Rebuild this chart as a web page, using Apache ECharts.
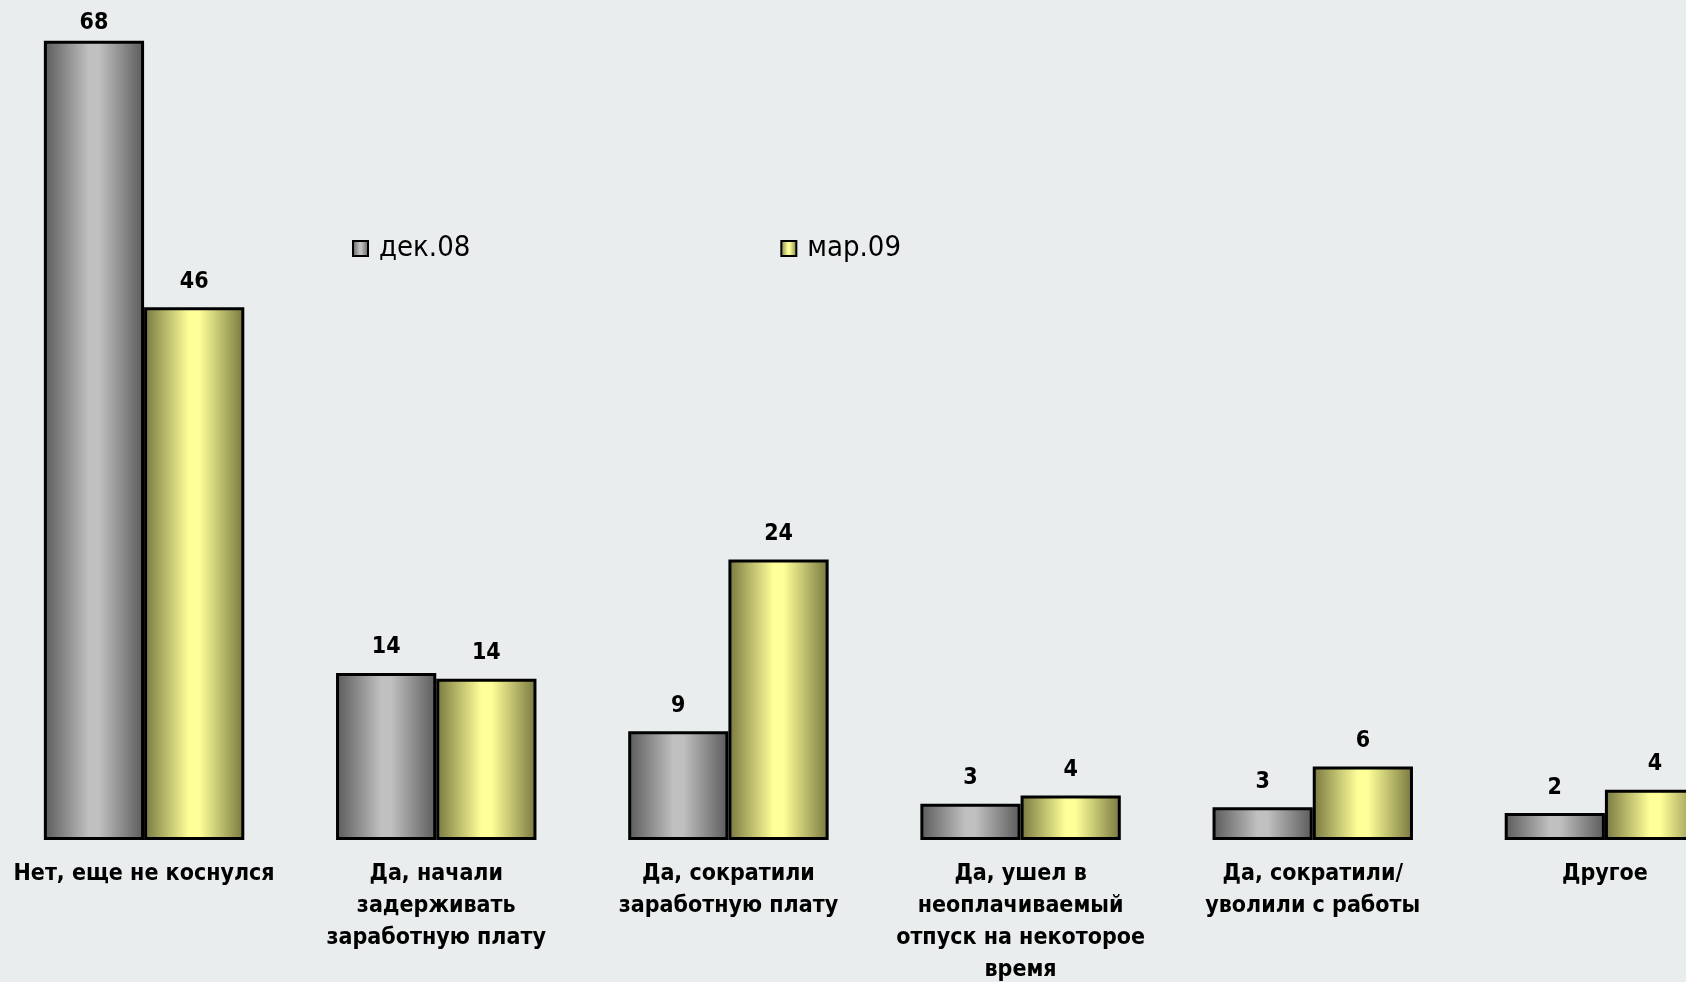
<!DOCTYPE html>
<html>
<head>
<meta charset="utf-8">
<script src="https://cdn.jsdelivr.net/npm/echarts@6/dist/echarts.min.js"></script>
<style>
html,body{margin:0;padding:0;background:#e9edee;}
#chart{width:1686px;height:982px;}
</style>
</head>
<body>
<div id="chart"></div>
<script>
const categories = [
  "Нет, еще не коснулся",
  "Да, начали\nзадерживать\nзаработную плату",
  "Да, сократили\nзаработную плату",
  "Да, ушел в\nнеоплачиваемый\nотпуск на некоторое\nвремя",
  "Да, сократили/\nуволили с работы",
  "Другое"
];
const seriesNames = ["дек.08", "мар.09"];
const dec08 = [68.4, 14.3, 9.3, 3.1, 2.8, 2.3];
const mar09 = [45.6, 13.8, 24.0, 3.8, 6.3, 4.3];

const FONT = "'DejaVu Sans Condensed', 'DejaVu Sans', Verdana, sans-serif";

function grad(edge, mid) {
  return new echarts.graphic.LinearGradient(0, 0, 1, 0, [
    {offset: 0, color: edge},
    {offset: 0.45, color: mid},
    {offset: 0.55, color: mid},
    {offset: 1, color: edge}
  ]);
}

// the tallest bar's label sits closer to the bar (pushed down by the chart edge)
function withLabels(arr) {
  const mx = Math.max(...dec08, ...mar09);
  return arr.map(v => v === mx ? {value: v, label: {distance: 6}} : v);
}

const chart = echarts.init(document.getElementById('chart'));
const labelCfg = {
  show: true,
  position: 'top',
  distance: 14,
  fontFamily: FONT,
  fontWeight: 'bold',
  fontSize: 23,
  color: '#000',
  formatter: p => Math.round(p.value)
};
chart.setOption({
  backgroundColor: '#e9edee',
  animation: false,
  grid: {left: -2, right: -65, top: 22, bottom: 142, containLabel: false, outerBoundsMode: 'none'},
  legend: {
    left: 347,
    top: 229,
    itemWidth: 15,
    itemHeight: 15,
    itemGap: 310,
    icon: 'rect',
    textStyle: {fontFamily: FONT, fontSize: 29, color: '#000', padding: [0, 0, 0, 6]},
    data: seriesNames
  },
  xAxis: {
    type: 'category',
    data: categories,
    axisLine: {show: false},
    axisTick: {show: false},
    axisLabel: {
      interval: 0,
      margin: 18,
      fontFamily: FONT,
      fontWeight: 'bold',
      fontSize: 23,
      lineHeight: 32,
      color: '#000'
    }
  },
  yAxis: {
    type: 'value',
    min: 0,
    max: 70,
    show: false,
    splitLine: {show: false}
  },
  series: [
    {
      name: seriesNames[0],
      type: 'bar',
      data: withLabels(dec08),
      barGap: '0%',
      barCategoryGap: '31.4%',
      itemStyle: {color: grad('#5a5a5a', '#c0c0c0'), borderColor: '#000', borderWidth: 3},
      label: labelCfg
    },
    {
      name: seriesNames[1],
      type: 'bar',
      data: withLabels(mar09),
      barGap: '0%',
      barCategoryGap: '31.4%',
      itemStyle: {color: grad('#77773f', '#ffff99'), borderColor: '#000', borderWidth: 3},
      label: labelCfg
    }
  ]
});
</script>
</body>
</html>
